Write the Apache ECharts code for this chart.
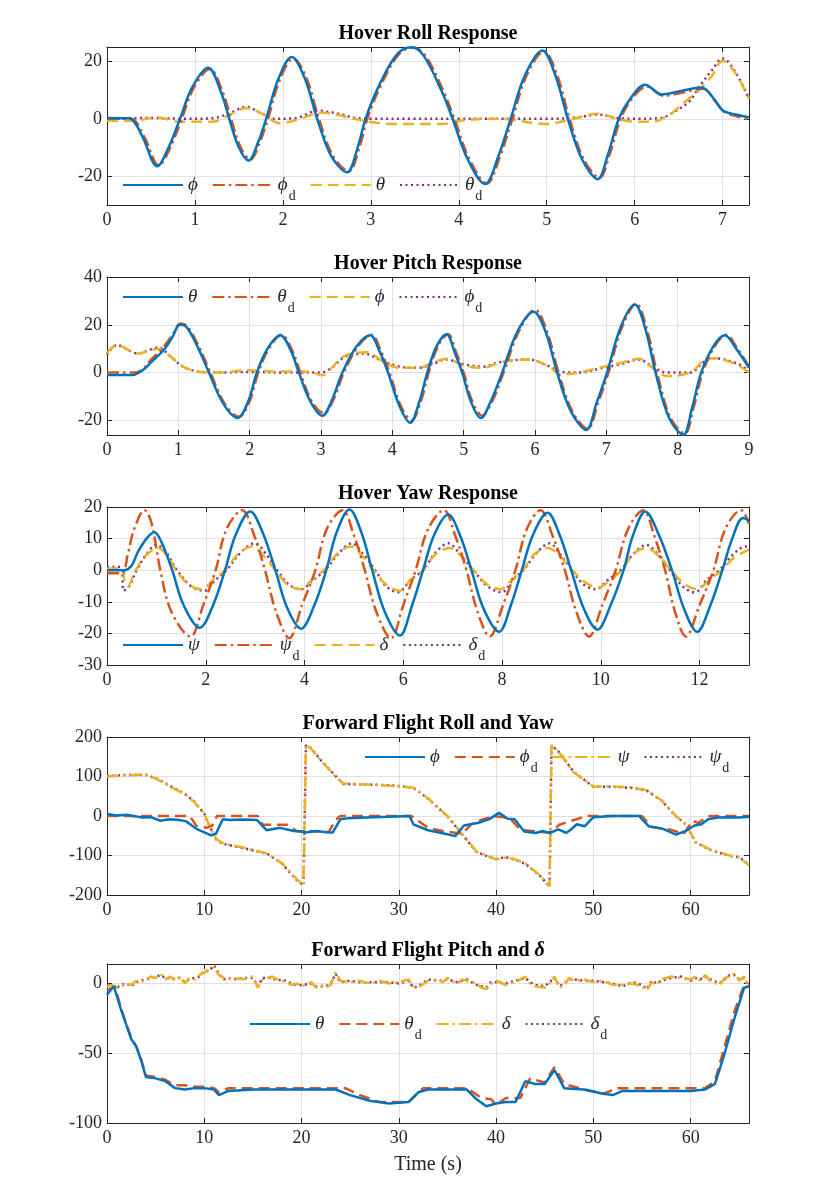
<!DOCTYPE html>
<html>
<head>
<meta charset="utf-8">
<script src="https://cdn.jsdelivr.net/npm/echarts@6/dist/echarts.min.js"></script>
<style>
html, body { margin: 0; padding: 0; background: #fff; }
#chart { width: 828px; height: 1182px; }
</style>
</head>
<body>
<div id="chart"></div>
<script>
//Hover roll (t in s, angle in deg)
const rollPhi = [[0,0.3],[0.25,0.2],[0.4,-6],[0.57,-16.5],[0.7,-10],[0.83,0],[0.97,11],[1.15,17.8],[1.3,9],[1.39,0],[1.5,-10],[1.61,-14.5],[1.72,-8],[1.81,0],[1.95,14],[2.1,21.5],[2.25,14],[2.39,0],[2.55,-13],[2.73,-18.6],[2.85,-10],[2.94,0],[3.1,12],[3.3,22.5],[3.46,24.9],[3.6,22],[3.8,10],[3.93,0],[4.1,-14],[4.3,-22.7],[4.45,-13],[4.59,0],[4.75,15],[4.95,23.8],[5.1,15],[5.24,0],[5.4,-14],[5.58,-21],[5.7,-12],[5.82,0],[5.95,7],[6.12,11.9],[6.31,8.5],[6.5,9.5],[6.76,10.9],[6.9,7],[7.0,2.9],[7.15,1.5],[7.3,0.5]];
const rollPhiD = [[0,0],[0.27,0],[0.42,-6],[0.59,-16.2],[0.72,-10],[0.85,0],[0.99,11],[1.17,17.3],[1.32,9],[1.41,0],[1.52,-10],[1.63,-14.2],[1.74,-8],[1.83,0],[1.97,14],[2.12,21],[2.27,14],[2.41,0],[2.57,-13],[2.75,-18.3],[2.87,-10],[2.96,0],[3.12,12],[3.32,22.5],[3.48,24.8],[3.62,22],[3.82,10],[3.95,0],[4.12,-14],[4.32,-22.5],[4.47,-13],[4.61,0],[4.77,15],[4.97,23.5],[5.12,15],[5.26,0],[5.42,-14],[5.6,-20.5],[5.72,-12],[5.84,0],[5.97,7],[6.14,11.2],[6.33,8],[6.52,9],[6.78,10.5],[6.92,6],[7.02,2.5],[7.17,0.8],[7.3,-0.2]];
const rollTheta = [[0,-0.7],[0.29,-0.7],[0.58,0.5],[0.82,-1.0],[1.2,-1.0],[1.4,1.5],[1.58,3.8],[1.75,2],[1.97,-1.5],[2.2,0],[2.44,2.2],[2.6,1.5],[2.81,0],[3.1,-1.5],[3.38,-1.8],[3.8,-1.8],[4.06,-0.5],[4.43,0],[4.6,-0.3],[5.0,-1.8],[5.3,0],[5.58,1.8],[5.8,0],[6.0,-1.0],[6.2,-1.0],[6.4,1.5],[6.52,4.6],[6.73,10],[6.88,15],[7.0,20.2],[7.15,15.7],[7.3,7]];
const rollThetaD = [[0,0],[0.5,0.3],[0.9,0],[1.2,0.2],[1.4,2],[1.58,4.2],[1.75,2],[1.9,0],[2.15,0.3],[2.4,2.8],[2.6,2],[2.8,0.5],[3.0,0],[3.5,0],[4.0,0],[4.5,0],[5.0,0],[5.35,0.5],[5.58,1.5],[5.8,0.3],[6.0,0],[6.3,0.3],[6.45,2.5],[6.62,6],[6.73,11],[6.88,17],[7.0,21],[7.15,16],[7.3,7]];

//Hover pitch
const pitchTheta = [[0,-1],[0.36,-1],[0.5,1],[0.62,4.4],[0.81,10],[0.92,15],[1.02,20],[1.1,19.5],[1.25,12],[1.43,0],[1.63,-13],[1.83,-19],[1.98,-12],[2.1,0],[2.25,10],[2.43,15.6],[2.58,9],[2.69,0],[2.85,-12],[3.02,-18],[3.16,-11],[3.3,0],[3.5,11],[3.69,15.6],[3.82,9],[3.94,0],[4.1,-14],[4.25,-21],[4.38,-12],[4.49,0],[4.62,11],[4.76,16],[4.88,8],[4.98,0],[5.1,-12],[5.24,-19],[5.38,-12],[5.54,0],[5.75,17],[5.98,25.5],[6.15,17],[6.31,0],[6.5,-16],[6.72,-24],[6.86,-13],[7.01,0],[7.2,19],[7.4,28.5],[7.55,18],[7.69,0],[7.88,-19],[8.08,-26],[8.2,-15],[8.33,0],[8.5,11],[8.66,15.6],[8.82,10],[9.0,2]];
const pitchThetaD = [[0,0],[0.38,0],[0.5,1.5],[0.62,5.5],[0.8,11],[0.92,16],[1.03,20.5],[1.12,19.5],[1.27,12],[1.45,0],[1.65,-13],[1.85,-18.5],[2.0,-12],[2.12,0],[2.27,10],[2.45,15.8],[2.6,9],[2.71,0],[2.87,-12],[3.04,-17],[3.18,-11],[3.32,0],[3.52,11],[3.71,15.8],[3.84,9],[3.96,0],[4.12,-14],[4.27,-20],[4.4,-12],[4.51,0],[4.64,11],[4.78,16],[4.9,8],[5.0,0],[5.12,-12],[5.26,-18],[5.4,-12],[5.56,0],[5.77,17],[6.0,26.3],[6.17,17],[6.33,0],[6.52,-16],[6.74,-23.5],[6.88,-13],[7.03,0],[7.22,19],[7.42,28.8],[7.57,18],[7.71,0],[7.9,-19],[8.1,-25.5],[8.22,-15],[8.35,0],[8.52,11],[8.68,15.8],[8.84,10],[9.0,2.5]];
const pitchPhi = [[0,8],[0.14,11.5],[0.43,8],[0.72,10],[0.88,7],[1.07,2.4],[1.27,0.5],[1.52,0],[2.0,1],[2.3,0.5],[2.8,0.5],[3.02,-1.1],[3.15,2],[3.33,7],[3.65,8.5],[3.85,5],[4.1,2],[4.36,2],[4.6,4.5],[4.75,5.8],[5.0,3],[5.27,2],[5.53,4.4],[5.91,5.5],[6.17,3],[6.37,-0.8],[6.62,0],[6.95,2.4],[7.2,4],[7.46,5.8],[7.65,2],[7.85,-1.4],[8.17,0],[8.37,5],[8.5,6],[8.82,3.5],[9.0,0]];
const pitchPhiD = [[0,7.5],[0.14,11.5],[0.43,8],[0.72,10.5],[0.88,7],[1.07,2.4],[1.27,0.5],[1.52,0],[2.0,0.3],[2.5,0],[3.0,0],[3.15,2],[3.33,6.5],[3.6,8],[3.85,5],[4.1,2.5],[4.36,2],[4.6,4],[4.75,5.5],[5.0,3.5],[5.27,2.5],[5.53,4.5],[5.91,5.5],[6.17,3],[6.37,0.3],[6.62,0],[6.95,2],[7.2,3.5],[7.46,5.5],[7.65,2.5],[7.85,0],[8.17,0],[8.37,4.5],[8.5,6],[8.82,4],[9.0,0.5]];

//Hover yaw
const yawPsi = [[0,0],[0.34,0],[0.5,1.5],[0.62,5.6],[0.8,10],[0.96,12],[1.1,9],[1.32,0],[1.55,-11],[1.88,-18.2],[2.15,-11],[2.39,0],[2.6,11],[2.9,18.6],[3.15,12],[3.41,0],[3.65,-12],[3.93,-18.5],[4.2,-11],[4.44,0],[4.65,12],[4.91,19.2],[5.15,12],[5.37,0],[5.62,-13],[5.93,-20.7],[6.18,-11],[6.4,0],[6.62,11],[6.91,17.6],[7.15,11],[7.38,0],[7.62,-12],[7.94,-19.5],[8.18,-11],[8.4,0],[8.62,11],[8.92,18.2],[9.17,11],[9.4,0],[9.65,-12],[9.93,-18.8],[10.2,-11],[10.46,0],[10.65,11],[10.9,18.6],[11.18,11],[11.44,0],[11.68,-12],[11.95,-19.5],[12.22,-11],[12.46,0],[12.66,10],[12.88,16.5],[13.0,15.7]];
const yawPsiD = [[0,-1],[0.3,-1],[0.42,5],[0.55,13],[0.76,19],[0.9,15],[1.08,0],[1.3,-13],[1.69,-21],[1.95,-11],[2.2,0],[2.42,13],[2.74,19],[2.98,11],[3.2,0],[3.42,-13],[3.69,-21.5],[3.95,-11],[4.22,0],[4.45,13],[4.77,19],[5.0,11],[5.22,0],[5.45,-13],[5.75,-21.5],[6.0,-11],[6.25,0],[6.5,13],[6.82,19],[7.05,11],[7.28,0],[7.5,-13],[7.75,-21],[8.02,-11],[8.27,0],[8.5,13],[8.78,19],[9.02,11],[9.27,0],[9.5,-13],[9.76,-21],[10.03,-11],[10.3,0],[10.55,13],[10.86,19],[11.08,11],[11.3,0],[11.5,-13],[11.72,-21],[12.0,-11],[12.28,0],[12.52,13],[12.84,19],[13.0,14.7]];
const yawDelta = [[0,0.5],[0.3,0.5],[0.36,-4],[0.43,-5],[0.55,-1],[0.75,4],[1.03,7],[1.2,5],[1.4,0],[1.65,-4.5],[1.92,-6],[2.15,-3],[2.39,0],[2.65,5],[2.93,7.5],[3.2,4],[3.41,0],[3.65,-4.5],[3.93,-6],[4.15,-3],[4.39,0],[4.65,5],[4.93,7.5],[5.2,4],[5.4,0],[5.65,-4.5],[5.93,-6.5],[6.15,-3],[6.4,0],[6.65,5],[6.94,7],[7.2,4],[7.42,0],[7.7,-4.5],[7.97,-6],[8.2,-3],[8.42,0],[8.65,5],[8.92,7],[9.2,4],[9.42,0],[9.7,-4],[9.94,-5.5],[10.2,-3],[10.43,0],[10.65,5],[10.92,7],[11.2,4],[11.42,0],[11.7,-4.5],[11.95,-6],[12.2,-3],[12.45,0],[12.7,4],[13.0,6.5]];
const yawDeltaD = [[0,1],[0.28,1],[0.34,-6.5],[0.45,-5],[0.6,0],[0.8,5],[0.99,8],[1.2,5.5],[1.42,0],[1.7,-5],[1.97,-6.5],[2.2,-3],[2.42,0],[2.7,5.5],[2.99,8.5],[3.25,4.5],[3.45,0],[3.68,-4.5],[3.93,-6],[4.18,-3],[4.42,0],[4.7,5.5],[4.95,8.5],[5.22,4.5],[5.43,0],[5.65,-5],[5.89,-7],[6.15,-3],[6.4,0],[6.65,5.5],[6.91,8.5],[7.18,4.5],[7.42,0],[7.7,-5],[7.99,-7],[8.22,-3],[8.43,0],[8.7,5.5],[8.96,8.5],[9.2,4.5],[9.42,0],[9.65,-4.5],[9.9,-6],[10.15,-3],[10.4,0],[10.65,5],[10.92,8],[11.18,4.5],[11.4,0],[11.65,-5],[11.9,-7],[12.15,-3],[12.4,0],[12.68,5],[12.93,7.5],[13.0,7.3]];

//Forward flight roll and yaw
const fwdPhi = [[0,5],[1,1],[2,3],[3,-1],[3.6,-4],[4.5,-3],[5.5,-12],[6.4,-8],[7.4,-10],[8.1,-13],[9.3,-34],[10.7,-49],[11.2,-45],[11.9,-8],[12.6,-10],[14,-9],[15.4,-10],[16.4,-36],[17.8,-30],[19.2,-38],[20.6,-41],[21.6,-38],[22.5,-41],[23.2,-42],[24.0,-8],[24.7,-6],[27.3,-3],[29,-2],[31.1,0],[31.5,-21],[33,-36],[34.4,-43],[35.8,-51],[36.7,-24],[38.2,-17],[39.3,-8],[40.3,8],[41.2,-7],[41.9,-8],[42.9,-39],[44.1,-43],[44.8,-38],[45.5,-43],[46.4,-34],[47.2,-43],[47.6,-36],[48.3,-21],[49.1,-26],[50.0,-3],[51.9,0],[54.7,0],[55.7,-26],[57.1,-32],[58.5,-47],[59.5,-38],[60.4,-24],[61.1,-21],[61.8,-8],[62.8,-4],[64,-3],[65,-4],[66,-2]];
const fwdPhiD = [[0,0],[8.5,0],[9.2,-25],[10.2,-30],[10.8,-25],[11.3,0],[15.5,0],[16,-22],[18.5,-22],[19.5,-38],[22.8,-40],[23.5,-10],[24,0],[31.3,0],[33,-30],[34.5,-38],[36.5,-45],[37.5,-20],[38.5,-10],[39.7,0],[40.8,-3],[41.5,-8],[42.5,-35],[44.5,-40],[45.5,-42],[46.5,-22],[48,-10],[49.3,0],[55,0],[56,-28],[58,-35],[59.3,-45],[60.2,-12],[60.8,-18],[61.5,-5],[62,0],[66,0]];
const fwdPsi = [[0,100],[2,103],[4,105],[5,95],[6.5,75],[8,55],[9,35],[10,5],[10.7,-35],[11.3,-60],[12,-70],[14,-80],[16.5,-95],[18,-120],[19.5,-160],[20.2,-175],[20.35,-175],[20.45,180],[21,170],[22,140],[23.5,100],[24.3,82],[28,78],[30,75],[31.5,72],[33,45],[35,0],[36.5,-45],[38,-90],[39,-100],[40,-110],[41,-105],[42,-110],[43,-120],[44.5,-150],[45.5,-178],[45.6,-178],[45.7,180],[46.5,160],[48,110],[50,75],[52,75],[54,72],[55.5,65],[57,40],[58.5,0],[59.5,-20],[60.5,-65],[62,-85],[64,-100],[65,-105],[66,-125]];
const fwdPsiD = [[0,101],[2,104],[4,104],[5,96],[6.5,76],[8,56],[9,36],[10,6],[10.7,-34],[11.3,-62],[12,-71],[14,-81],[16.5,-96],[18,-121],[19.5,-162],[20.2,-176],[20.35,-176],[20.45,179],[21,171],[22,141],[23.5,101],[24.3,81],[28,79],[30,76],[31.5,71],[33,44],[35,-1],[36.5,-46],[38,-91],[39,-101],[40,-109],[41,-104],[42,-111],[43,-121],[44.5,-151],[45.5,-179],[45.6,-179],[45.7,179],[46.5,161],[48,111],[50,74],[52,74],[54,71],[55.5,64],[57,39],[58.5,-1],[59.5,-21],[60.5,-66],[62,-86],[64,-101],[65,-104],[66,-124]];

//Forward flight pitch and delta
const fwdTheta = [[0,-8],[0.7,-2],[1.5,-20],[2,-30],[2.5,-40],[3,-45],[3.5,-55],[4,-67],[5,-68],[6,-70],[7,-75],[8,-76],[9,-75],[10,-75],[11,-76],[11.5,-80],[12.5,-77],[15,-76],[20,-76],[23.5,-76],[25,-80],[27,-84],[29,-86],[31,-85],[32,-78],[33,-76],[37,-76],[38,-83],[39,-88],[40,-86],[41,-85],[42,-85],[43,-70],[44,-72],[45,-72],[46,-62],[47,-75],[49,-76],[51,-79],[52,-80],[53,-77],[60,-77],[61.5,-76],[62.5,-72],[63.5,-50],[64.5,-25],[65.5,-3],[66,-2]];
const fwdThetaD = [[0,-5],[0.8,-2],[1.5,-19],[2,-29],[2.5,-39],[3,-45],[3.5,-54],[4,-66],[5,-67],[6,-69],[7,-73],[8,-73],[9,-74],[10,-74],[11,-75],[11.5,-78],[12.5,-75],[24.5,-75],[26,-80],[28,-85],[31,-85],[32.5,-75],[37,-75],[38.5,-82],[39.5,-83],[40,-87],[41,-82],[42.5,-82],[43.5,-68],[45,-71],[46,-60],[47,-72],[48,-74],[51,-79],[52.5,-75],[61.5,-75],[62.5,-70],[63.5,-45],[64.5,-20],[65.5,-1],[66,0]];
const fwdDelta = [[0,-2],[0.5,-1],[1,-3],[1.5,-2],[2,0],[2.5,-1],[3,2],[3.5,1],[4,3],[4.5,5],[5,4],[5.5,7],[6,3],[6.5,5],[7,2],[7.5,5],[8,0],[8.5,4],[9,3],[9.5,6],[10,8],[10.5,10],[11,12],[11.5,6],[12,4],[12.5,3],[13,4],[14,3],[15,5],[15.5,-3],[16,3],[17,5],[17.5,3],[18,2],[19,-1],[19.5,0],[20,-2],[21,1],[21.5,-3],[22,-1],[22.5,-3],[23,-1],[23.5,8],[24,2],[25,1],[26,2],[27,0],[28,2],[29,0],[30,1],[31,3],[31.5,-2],[32,-3],[33,2],[34,3],[34.5,1],[35,4],[36,0],[36.5,3],[37,2],[38,0],[38.5,-3],[39,-4],[39.5,0],[40,2],[41,-1],[42,1],[43,5],[43.5,0],[44,-2],[45,-3],[45.5,0],[46,5],[46.5,-3],[47,-1],[47.5,4],[48,2],[49,3],[50,1],[51,2],[52,-1],[53,-1],[54,0],[55,-2],[55.5,-5],[56,1],[56.5,-1],[57,3],[58,5],[59,4],[60,3],[60.5,5],[61,2],[61.5,6],[62,2],[63,-1],[63.5,4],[64,5],[64.5,7],[65,2],[65.5,5],[66,-3]];
const fwdDeltaD = [[0,-1],[0.5,-2],[1,-3],[1.5,-1],[2,0],[2.5,-2],[3,1],[3.5,2],[4,3],[4.5,4],[5,5],[5.5,6],[6,4],[6.5,4],[7,3],[7.5,4],[8,1],[8.5,3],[9,4],[9.5,5],[10,9],[10.5,9],[11,13],[11.5,7],[12,3],[12.5,4],[13,3],[14,4],[15,4],[15.5,-2],[16,4],[17,4],[17.5,2],[18,3],[19,0],[19.5,-1],[20,-1],[21,0],[21.5,-2],[22,-2],[22.5,-2],[23,0],[23.5,7],[24,1],[25,2],[26,1],[27,1],[28,1],[29,1],[30,0],[31,2],[31.5,-3],[32,-2],[33,3],[34,2],[34.5,2],[35,3],[36,1],[36.5,2],[37,3],[38,-1],[38.5,-2],[39,-3],[39.5,1],[40,1],[41,0],[42,2],[43,4],[43.5,1],[44,-1],[45,-2],[45.5,1],[46,4],[46.5,-2],[47,0],[47.5,3],[48,3],[49,2],[50,2],[51,1],[52,0],[53,-2],[54,1],[55,-1],[55.5,-4],[56,2],[56.5,0],[57,2],[58,4],[59,5],[60,2],[60.5,4],[61,3],[61.5,5],[62,3],[63,0],[63.5,3],[64,6],[64.5,6],[65,3],[65.5,4],[66,-2]];

//Tick labels
const rollXTicks = [0, 1, 2, 3, 4, 5, 6, 7];
const rollYTicks = [-20, 0, 20];
const pitchXTicks = [0, 1, 2, 3, 4, 5, 6, 7, 8, 9];
const pitchYTicks = [-20, 0, 20, 40];
const yawXTicks = [0, 2, 4, 6, 8, 10, 12];
const yawYTicks = [-30, -20, -10, 0, 10, 20];
const fwdXTicks = [0, 10, 20, 30, 40, 50, 60];
const fwdYTicks = [-200, -100, 0, 100, 200];
const fwdPitchYTicks = [-100, -50, 0];

//Titles and legend labels
const titles = ['Hover Roll Response', 'Hover Pitch Response', 'Hover Yaw Response', 'Forward Flight Roll and Yaw', 'Forward Flight Pitch and {b|δ}'];
const legendLabels = [
  ['{i|ϕ}', '{i|ϕ}{s|d}', '{i|θ}', '{i|θ}{s|d}'],
  ['{i|θ}', '{i|θ}{s|d}', '{i|ϕ}', '{i|ϕ}{s|d}'],
  ['{i|ψ}', '{i|ψ}{s|d}', '{i|δ}', '{i|δ}{s|d}'],
  ['{i|ϕ}', '{i|ϕ}{s|d}', '{i|ψ}', '{i|ψ}{s|d}'],
  ['{i|θ}', '{i|θ}{s|d}', '{i|δ}', '{i|δ}{s|d}']
];

const COLORS = ['#0072BD', '#D95319', '#EDB120', '#7E2F8E'];
const DASH = { solid: 'solid', dashdot: [12, 4, 2.5, 4], dashed: [11, 6], dotted: [2, 3.5] };
const TXT = '#262626';
const FONT = 'Liberation Serif';

//Layout of each subplot
const panels = [
  { top: 47, height: 158, xMax: 7.3, xTicks: rollXTicks, yMin: -30, yMax: 25, yTicks: rollYTicks,
    data: [rollPhi, rollPhiD, rollTheta, rollThetaD], dash: ['solid', 'dashdot', 'dashed', 'dotted'],
    smooth: true, legendLeft: 122, legendY: 185 },
  { top: 277, height: 158, xMax: 9, xTicks: pitchXTicks, yMin: -26.1, yMax: 40, yTicks: pitchYTicks,
    data: [pitchTheta, pitchThetaD, pitchPhi, pitchPhiD], dash: ['solid', 'dashdot', 'dashed', 'dotted'],
    smooth: true, legendLeft: 122, legendY: 297 },
  { top: 507, height: 158, xMax: 13, xTicks: yawXTicks, yMin: -30, yMax: 20, yTicks: yawYTicks,
    data: [yawPsi, yawPsiD, yawDelta, yawDeltaD], dash: ['solid', 'dashdot', 'dashed', 'dotted'],
    smooth: true, legendLeft: 122, legendY: 645 },
  { top: 737, height: 158, xMax: 66, xTicks: fwdXTicks, yMin: -200, yMax: 200, yTicks: fwdYTicks,
    data: [fwdPhi, fwdPhiD, fwdPsi, fwdPsiD], dash: ['solid', 'dashed', 'dashdot', 'dotted'],
    smooth: false, legendLeft: 364, legendY: 757 },
  { top: 964, height: 159, xMax: 66, xTicks: fwdXTicks, yMin: -100, yMax: 14, yTicks: fwdPitchYTicks,
    data: [fwdTheta, fwdThetaD, fwdDelta, fwdDeltaD], dash: ['solid', 'dashed', 'dashdot', 'dotted'],
    smooth: false, legendLeft: 249, legendY: 1024 }
];

const chart = echarts.init(document.getElementById('chart'));

const grid = [], xAxis = [], yAxis = [], series = [], legend = [], title = [];
const labelMap = {};
const LEG_LH = 24;

panels.forEach((p, i) => {
  grid.push({ left: 107, width: 642, top: p.top, height: p.height, outerBoundsMode: 'none' });

  const tickStyle = { show: true, inside: true, length: 5, lineStyle: { color: TXT, width: 1 } };
  const lineStyle = { show: true, onZero: false, lineStyle: { color: TXT, width: 1 } };

  //Axe x du bas (labels + grille) et axe miroir du haut
  xAxis.push({
    type: 'value', gridIndex: i, min: 0, max: p.xMax, position: 'bottom',
    axisLine: lineStyle,
    axisTick: { ...tickStyle, customValues: p.xTicks },
    axisLabel: { customValues: p.xTicks, color: TXT, fontFamily: FONT, fontSize: 18, margin: 6 },
    splitLine: { show: true, lineStyle: { color: '#e0e0e0', width: 1 } },
    name: i === 4 ? 'Time (s)' : '', nameLocation: 'middle', nameGap: 32,
    nameTextStyle: { color: TXT, fontFamily: FONT, fontSize: 20 }
  });
  xAxis.push({
    type: 'value', gridIndex: i, min: 0, max: p.xMax, position: 'top',
    axisLine: lineStyle,
    axisTick: { ...tickStyle, customValues: p.xTicks },
    axisLabel: { show: false }, splitLine: { show: false }
  });
  //Axe y gauche et miroir droit
  yAxis.push({
    type: 'value', gridIndex: i, min: p.yMin, max: p.yMax, position: 'left',
    axisLine: lineStyle,
    axisTick: { ...tickStyle, customValues: p.yTicks },
    axisLabel: { customValues: p.yTicks, color: TXT, fontFamily: FONT, fontSize: 18, margin: 5 },
    splitLine: { show: true, lineStyle: { color: '#e0e0e0', width: 1 } }
  });
  yAxis.push({
    type: 'value', gridIndex: i, min: p.yMin, max: p.yMax, position: 'right',
    axisLine: lineStyle,
    axisTick: { ...tickStyle, customValues: p.yTicks },
    axisLabel: { show: false }, splitLine: { show: false }
  });

  const names = [];
  p.data.forEach((d, k) => {
    const name = 'p' + i + 's' + k;
    names.push(name);
    labelMap[name] = legendLabels[i][k];
    series.push({
      name, type: 'line', data: d,
      xAxisIndex: 2 * i, yAxisIndex: 2 * i,
      symbol: 'none', showSymbol: false, smooth: p.smooth ? 0.35 : false,
      lineStyle: { color: COLORS[k], width: 2.5, type: DASH[p.dash[k]] },
      itemStyle: { color: COLORS[k] },
      emphasis: { disabled: true }, z: 10 - k
    });
  });

  legend.push({
    data: names, left: p.legendLeft, top: p.legendY - LEG_LH / 2,
    orient: 'horizontal', itemWidth: 60, itemHeight: 14, itemGap: 14, padding: 0,
    selectedMode: false,
    itemStyle: { opacity: 0 },
    formatter: n => labelMap[n],
    textStyle: {
      color: TXT, fontFamily: FONT, fontSize: 19, lineHeight: LEG_LH,
      rich: {
        i: { fontStyle: 'italic', fontFamily: FONT, fontSize: 19, color: TXT, lineHeight: LEG_LH },
        s: { fontFamily: FONT, fontSize: 14, color: TXT, lineHeight: LEG_LH, verticalAlign: 'bottom', padding: [0, 0, -6, 1] }
      }
    }
  });

  title.push({
    text: titles[i], left: 428, top: p.top - 23, textAlign: 'center', padding: 0,
    textStyle: {
      color: '#000', fontFamily: FONT, fontSize: 20, fontWeight: 'bold',
      rich: { b: { fontFamily: FONT, fontSize: 20, fontWeight: 'bold', fontStyle: 'italic', color: '#000' } }
    }
  });
});

chart.setOption({
  animation: false,
  backgroundColor: '#fff',
  title, grid, xAxis, yAxis, legend, series
});

window.addEventListener('resize', () => chart.resize());
</script>
</body>
</html>
